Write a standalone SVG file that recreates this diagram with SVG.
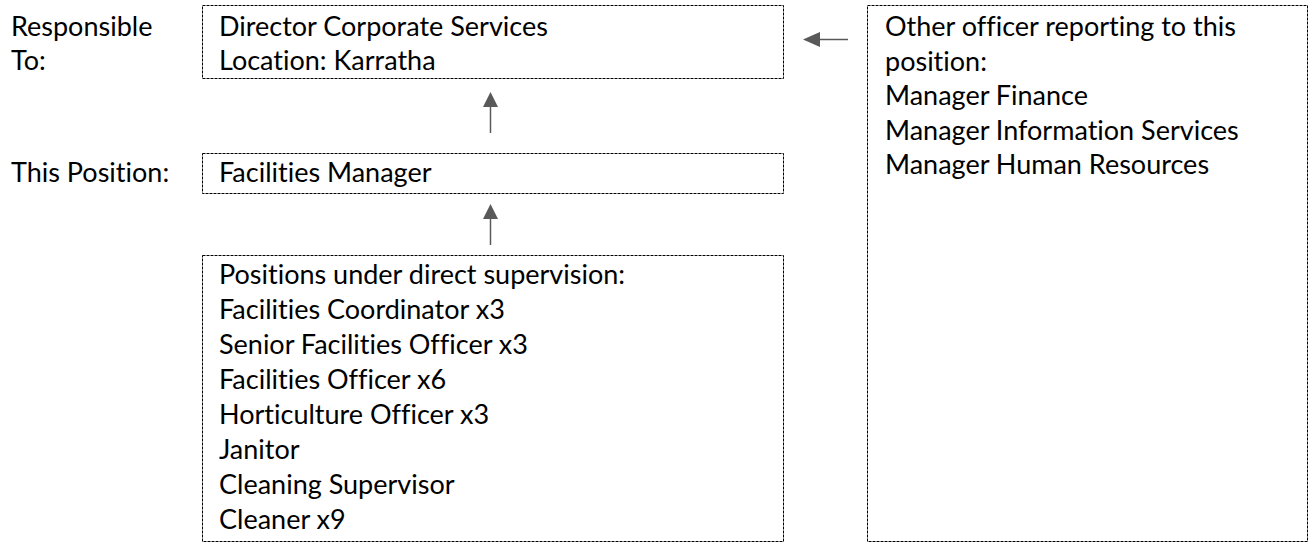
<svg xmlns="http://www.w3.org/2000/svg" width="1314" height="543" viewBox="0 0 1314 543">
<style>
.box{fill:#ffffff;stroke:#000000;stroke-width:1;stroke-dasharray:3 1}
.t{font-family:Lato,"Open Sans",sans-serif;font-size:27px;fill:#000000;font-variant-ligatures:none}
.conn{stroke:#595959;stroke-width:1.5;fill:none}
.head{fill:#595959}
</style>
<rect width="1314" height="543" fill="#ffffff"/>
<g id="labels">
<text class="t" x="11" y="36">Responsible</text>
<text class="t" x="11" y="70">To:</text>
<text class="t" x="11" y="182">This Position:</text>
</g>
<g id="node-director">
<rect class="box" x="202.5" y="5.5" width="581" height="73"/>
<text class="t" x="219" y="36">Director Corporate Services</text>
<text class="t" x="219" y="70">Location: Karratha</text>
</g>
<g id="node-facilities-manager">
<rect class="box" x="202.5" y="153.5" width="581" height="40"/>
<text class="t" x="219" y="182">Facilities Manager</text>
</g>
<g id="node-supervised">
<rect class="box" x="202.5" y="255.5" width="581" height="286"/>
<text class="t" x="219" y="284">Positions under direct supervision:</text>
<text class="t" x="219" y="319">Facilities Coordinator x3</text>
<text class="t" x="219" y="354">Senior Facilities Officer x3</text>
<text class="t" x="219" y="389">Facilities Officer x6</text>
<text class="t" x="219" y="424">Horticulture Officer x3</text>
<text class="t" x="219" y="459">Janitor</text>
<text class="t" x="219" y="494">Cleaning Supervisor</text>
<text class="t" x="219" y="529">Cleaner x9</text>
</g>
<g id="node-other">
<rect class="box" x="867.5" y="5.5" width="440" height="536"/>
<text class="t" x="885" y="36">Other officer reporting to this</text>
<text class="t" x="885" y="70.5">position:</text>
<text class="t" x="885" y="105">Manager Finance</text>
<text class="t" x="885" y="139.5">Manager Information Services</text>
<text class="t" x="885" y="174">Manager Human Resources</text>
</g>
<g id="connectors">
<line class="conn" x1="490.5" y1="133" x2="490.5" y2="106"/>
<polygon class="head" points="490.5,92 483,107 498,107"/>
<line class="conn" x1="490.5" y1="245" x2="490.5" y2="218"/>
<polygon class="head" points="490.5,204 483,219 498,219"/>
<line class="conn" x1="848" y1="39.5" x2="819" y2="39.5"/>
<polygon class="head" points="803,39.5 820,32 820,47"/>
</g>
</svg>
